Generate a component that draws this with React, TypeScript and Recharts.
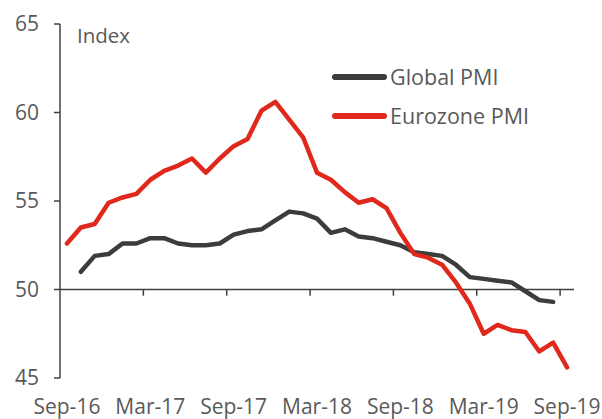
import React from 'react'
import { LineChart, Line, XAxis, YAxis, ReferenceLine, Legend } from 'recharts'

const months = [
  'Sep-16', 'Oct-16', 'Nov-16', 'Dec-16', 'Jan-17', 'Feb-17', 'Mar-17', 'Apr-17', 'May-17', 'Jun-17',
  'Jul-17', 'Aug-17', 'Sep-17', 'Oct-17', 'Nov-17', 'Dec-17', 'Jan-18', 'Feb-18', 'Mar-18', 'Apr-18',
  'May-18', 'Jun-18', 'Jul-18', 'Aug-18', 'Sep-18', 'Oct-18', 'Nov-18', 'Dec-18', 'Jan-19', 'Feb-19',
  'Mar-19', 'Apr-19', 'May-19', 'Jun-19', 'Jul-19', 'Aug-19', 'Sep-19',
]

const globalPmi = [
  null, 51.0, 51.9, 52.0, 52.6, 52.6, 52.9, 52.9, 52.6, 52.5,
  52.5, 52.6, 53.1, 53.3, 53.4, 53.9, 54.4, 54.3, 54.0, 53.2,
  53.4, 53.0, 52.9, 52.7, 52.5, 52.1, 52.0, 51.9, 51.4, 50.7,
  50.6, 50.5, 50.4, 49.9, 49.4, 49.3, null,
]

const eurozonePmi = [
  52.6, 53.5, 53.7, 54.9, 55.2, 55.4, 56.2, 56.7, 57.0, 57.4,
  56.6, 57.4, 58.1, 58.5, 60.1, 60.6, 59.6, 58.6, 56.6, 56.2,
  55.5, 54.9, 55.1, 54.6, 53.2, 52.0, 51.8, 51.4, 50.4, 49.2,
  47.5, 48.0, 47.7, 47.6, 46.5, 47.0, 45.6,
]

const seriesNames = ['Global PMI', 'Eurozone PMI']
const labelTicks = [0, 6, 12, 18, 24, 30, 36]
const tickBounds = [5.5, 11.5, 17.5, 23.5, 29.5, 35.5]
const yTicks = [45, 50, 55, 60, 65]

const data = months.map((m, i) => ({
  idx: i,
  month: m,
  global: globalPmi[i],
  eurozone: eurozonePmi[i],
}))

const FONT = '"Open Sans", sans-serif'
const TEXT = '#595959'
const AXIS = '#404040'

const renderLegend = (props: any) => {
  const items = [...(props.payload || [])].sort(
    (a: any, b: any) => seriesNames.indexOf(a.value) - seriesNames.indexOf(b.value)
  )
  return (
    <div style={{ fontFamily: FONT, fontSize: 21.5, color: TEXT }}>
      {items.map((entry: any) => (
        <div key={entry.value} style={{ display: 'flex', alignItems: 'center', height: 39 }}>
          <svg width={55} height={10}>
            <line x1={3} y1={5} x2={52} y2={5} stroke={entry.color} strokeWidth={6} strokeLinecap="round" />
          </svg>
          <span style={{ marginLeft: 3, whiteSpace: 'nowrap' }}>{entry.value}</span>
        </div>
      ))}
    </div>
  )
}

export default function App() {
  return (
    <div style={{ position: 'absolute', left: 0, top: 0, width: 602, height: 419, background: '#fff' }}>
      <LineChart width={602} height={419} data={data} margin={{ top: 24, right: 28, left: 0, bottom: 0 }}>
        <XAxis
          type="number"
          dataKey="idx"
          domain={[-0.5, 36.5]}
          ticks={labelTicks}
          tickFormatter={(i: number) => months[i]}
          axisLine={false}
          tickLine={false}
          tickSize={0}
          tickMargin={21}
          height={41}
          interval={0}
          allowDataOverflow
          tick={{ fill: TEXT, fontSize: 21, fontFamily: FONT }}
        />
        <YAxis
          domain={[45, 65]}
          ticks={yTicks}
          width={60}
          axisLine={{ stroke: AXIS, strokeWidth: 1.5 }}
          tickLine={{ stroke: AXIS, strokeWidth: 1.5 }}
          tickSize={6}
          tickMargin={15}
          tick={{ fill: TEXT, fontSize: 21, fontFamily: FONT }}
        />
        <ReferenceLine y={50} stroke={AXIS} strokeWidth={1.5} />
        {tickBounds.map((b) => (
          <ReferenceLine
            key={b}
            segment={[{ x: b, y: 50 }, { x: b, y: 49.65 }]}
            stroke={AXIS}
            strokeWidth={1.5}
          />
        ))}
        <Legend
          layout="vertical"
          align="center"
          verticalAlign="middle"
          content={renderLegend}
          wrapperStyle={{ left: 332, top: 57, width: 'auto' }}
        />
        <Line
          type="linear"
          dataKey="global"
          name="Global PMI"
          stroke="#3c3c3c"
          strokeWidth={4.5}
          strokeLinecap="round"
          strokeLinejoin="round"
          dot={false}
          isAnimationActive={false}
        />
        <Line
          type="linear"
          dataKey="eurozone"
          name="Eurozone PMI"
          stroke="#e0281c"
          strokeWidth={4.5}
          strokeLinecap="round"
          strokeLinejoin="round"
          dot={false}
          isAnimationActive={false}
        />
      </LineChart>
      <div
        style={{
          position: 'absolute',
          left: 77,
          top: 21,
          fontFamily: FONT,
          fontSize: 20.5,
          color: TEXT,
        }}
      >
        Index
      </div>
    </div>
  )
}
